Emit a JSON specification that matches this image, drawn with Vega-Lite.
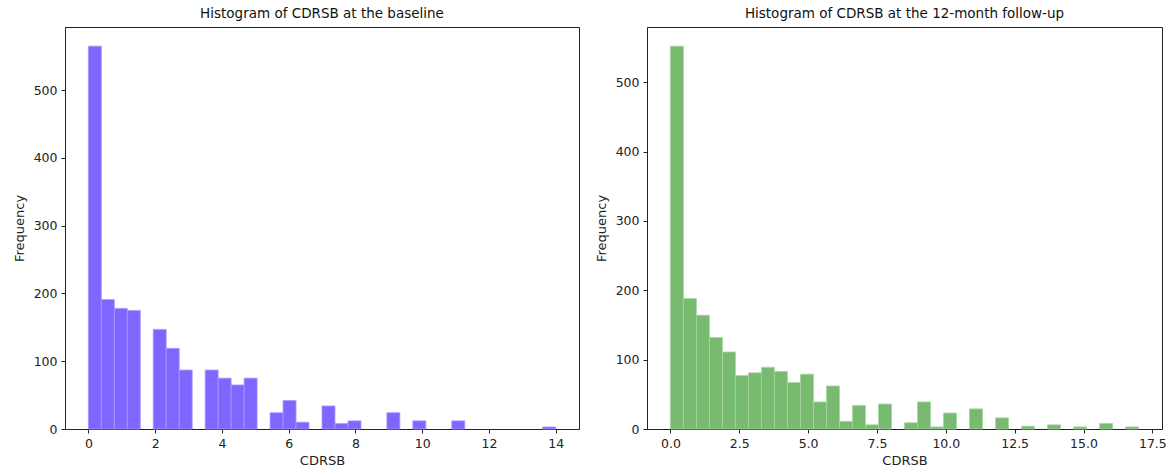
{
  "$schema": "https://vega.github.io/schema/vega-lite/v6.json",
  "background": "white",
  "padding": {"left": 12, "top": 6, "right": 5, "bottom": 5},
  "datasets": {
    "baseline": [
      {"bin_start": 0.0, "bin_end": 0.389, "count": 565},
      {"bin_start": 0.389, "bin_end": 0.778, "count": 191},
      {"bin_start": 0.778, "bin_end": 1.167, "count": 178},
      {"bin_start": 1.167, "bin_end": 1.556, "count": 175},
      {"bin_start": 1.944, "bin_end": 2.333, "count": 147},
      {"bin_start": 2.333, "bin_end": 2.722, "count": 119},
      {"bin_start": 2.722, "bin_end": 3.111, "count": 87},
      {"bin_start": 3.5, "bin_end": 3.889, "count": 87},
      {"bin_start": 3.889, "bin_end": 4.278, "count": 75},
      {"bin_start": 4.278, "bin_end": 4.667, "count": 65},
      {"bin_start": 4.667, "bin_end": 5.056, "count": 75},
      {"bin_start": 5.444, "bin_end": 5.833, "count": 24},
      {"bin_start": 5.833, "bin_end": 6.222, "count": 42},
      {"bin_start": 6.222, "bin_end": 6.611, "count": 10},
      {"bin_start": 7.0, "bin_end": 7.389, "count": 34},
      {"bin_start": 7.389, "bin_end": 7.778, "count": 8},
      {"bin_start": 7.778, "bin_end": 8.167, "count": 12},
      {"bin_start": 8.944, "bin_end": 9.333, "count": 24},
      {"bin_start": 9.722, "bin_end": 10.111, "count": 12},
      {"bin_start": 10.889, "bin_end": 11.278, "count": 12},
      {"bin_start": 13.611, "bin_end": 14.0, "count": 3}
    ],
    "followup": [
      {"bin_start": 0.0, "bin_end": 0.472, "count": 552},
      {"bin_start": 0.472, "bin_end": 0.944, "count": 188},
      {"bin_start": 0.944, "bin_end": 1.417, "count": 164},
      {"bin_start": 1.417, "bin_end": 1.889, "count": 132},
      {"bin_start": 1.889, "bin_end": 2.361, "count": 111},
      {"bin_start": 2.361, "bin_end": 2.833, "count": 77},
      {"bin_start": 2.833, "bin_end": 3.306, "count": 81},
      {"bin_start": 3.306, "bin_end": 3.778, "count": 89},
      {"bin_start": 3.778, "bin_end": 4.25, "count": 83},
      {"bin_start": 4.25, "bin_end": 4.722, "count": 67},
      {"bin_start": 4.722, "bin_end": 5.194, "count": 79},
      {"bin_start": 5.194, "bin_end": 5.667, "count": 39},
      {"bin_start": 5.667, "bin_end": 6.139, "count": 62},
      {"bin_start": 6.139, "bin_end": 6.611, "count": 11},
      {"bin_start": 6.611, "bin_end": 7.083, "count": 34},
      {"bin_start": 7.083, "bin_end": 7.556, "count": 6},
      {"bin_start": 7.556, "bin_end": 8.028, "count": 36},
      {"bin_start": 8.5, "bin_end": 8.972, "count": 9},
      {"bin_start": 8.972, "bin_end": 9.444, "count": 39},
      {"bin_start": 9.444, "bin_end": 9.917, "count": 3},
      {"bin_start": 9.917, "bin_end": 10.389, "count": 23},
      {"bin_start": 10.861, "bin_end": 11.333, "count": 29},
      {"bin_start": 11.806, "bin_end": 12.278, "count": 16},
      {"bin_start": 12.75, "bin_end": 13.222, "count": 4},
      {"bin_start": 13.694, "bin_end": 14.167, "count": 6},
      {"bin_start": 14.639, "bin_end": 15.111, "count": 3},
      {"bin_start": 15.583, "bin_end": 16.056, "count": 8},
      {"bin_start": 16.528, "bin_end": 17.0, "count": 3}
    ]
  },
  "spacing": 14,
  "hconcat": [
    {
      "width": 514,
      "height": 402,
      "title": "Histogram of CDRSB at the baseline",
      "data": {"name": "baseline"},
      "mark": {"type": "bar", "color": "#7F66FF", "stroke": "#A898FF", "strokeWidth": 0.8},
      "encoding": {
        "x": {"field": "bin_start", "type": "quantitative", "title": "CDRSB",
              "scale": {"domain": [-0.7, 14.7], "nice": false, "zero": false},
              "axis": {"values": [0, 2, 4, 6, 8, 10, 12, 14]}},
        "x2": {"field": "bin_end"},
        "y": {"field": "count", "type": "quantitative", "title": "Frequency",
              "scale": {"domain": [0, 593.25], "nice": false},
              "axis": {"values": [0, 100, 200, 300, 400, 500]}},
        "y2": {"datum": 0}
      }
    },
    {
      "width": 515,
      "height": 402,
      "title": "Histogram of CDRSB at the 12-month follow-up",
      "data": {"name": "followup"},
      "mark": {"type": "bar", "color": "#78BA70", "stroke": "#A8D4A2", "strokeWidth": 0.8},
      "encoding": {
        "x": {"field": "bin_start", "type": "quantitative", "title": "CDRSB",
              "scale": {"domain": [-0.85, 17.85], "nice": false, "zero": false},
              "axis": {"values": [0, 2.5, 5, 7.5, 10, 12.5, 15, 17.5], "format": ".1f"}},
        "x2": {"field": "bin_end"},
        "y": {"field": "count", "type": "quantitative", "title": "Frequency",
              "scale": {"domain": [0, 579.6], "nice": false},
              "axis": {"values": [0, 100, 200, 300, 400, 500]}},
        "y2": {"datum": 0}
      }
    }
  ],
  "config": {
    "font": "DejaVu Sans",
    "view": {"stroke": "#222", "strokeWidth": 1},
    "title": {"fontSize": 13.5, "fontWeight": "normal", "color": "#111", "offset": 7, "font": "DejaVu Sans"},
    "axis": {
      "grid": false,
      "domainColor": "#222",
      "tickColor": "#222",
      "tickSize": 4,
      "labelFontSize": 12.5,
      "labelColor": "#222",
      "labelFont": "DejaVu Sans",
      "titleFont": "DejaVu Sans",
      "titleFontSize": 13,
      "titleFontWeight": "normal",
      "titleColor": "#222",
      "labelPadding": 4
    },
    "axisX": {"titlePadding": 5, "labelFlush": false},
    "axisY": {"titlePadding": 7}
  }
}
